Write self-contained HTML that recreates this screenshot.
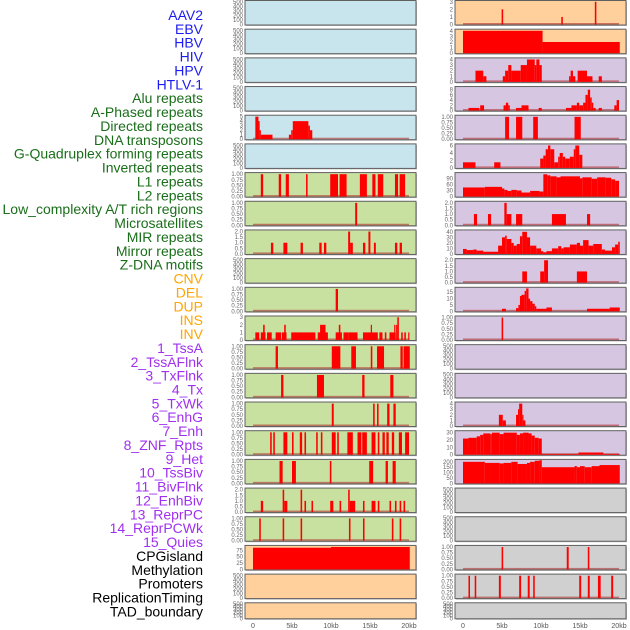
<!DOCTYPE html>
<html><head><meta charset="utf-8">
<style>
html,body{margin:0;padding:0;background:#fff;}
svg{display:block;font-family:"Liberation Sans",sans-serif;}
</style></head>
<body>
<svg id="chart" width="630" height="630" viewBox="0 0 630 630" xmlns="http://www.w3.org/2000/svg"></svg>
<script>
const trackLabels = ["AAV2","EBV","HBV","HIV","HPV","HTLV-1","Alu repeats","A-Phased repeats","Directed repeats","DNA transposons","G-Quadruplex forming repeats","Inverted repeats","L1 repeats","L2 repeats","Low_complexity A/T rich regions","Microsatellites","MIR repeats","Mirror repeats","Z-DNA motifs","CNV","DEL","DUP","INS","INV","1_TssA","2_TssAFlnk","3_TxFlnk","4_Tx","5_TxWk","6_EnhG","7_Enh","8_ZNF_Rpts","9_Het","10_TssBiv","11_BivFlnk","12_EnhBiv","13_ReprPC","14_ReprPCWk","15_Quies","CPGisland","Methylation","Promoters","ReplicationTiming","TAD_boundary"];
const labelGroups = ["v","v","v","v","v","v","r","r","r","r","r","r","r","r","r","r","r","r","r","s","s","s","s","s","c","c","c","c","c","c","c","c","c","c","c","c","c","c","c","o","o","o","o","o"];
const xTicks = [0,5,10,15,20];
const xTickLabels = ["0","5kb","10kb","15kb","20kb"];

// left column panel data: [startKb, endKb, value]
const L1=[],L2=[],L3=[],L4=[],L6=[],L10=[],L21=[],L22=[];
const L5=[[0.3,0.7,5],[0.7,0.85,4],[0.85,1.0,2],[1.0,2.5,1],[4.6,4.9,1],[4.9,5.1,2],[5.1,7.1,4],[7.1,7.3,3],[7.3,7.6,2]];
const L7=[[1.0,1.3,1],[3.3,3.6,1],[4.2,4.6,1],[6.8,7.0,1],[9.9,10.9,1],[11.1,12.0,1],[13.7,14.6,1],[15.3,15.7,1],[16.0,16.7,1],[18.2,18.6,1],[18.8,19.5,1]];
const L8=[[13.1,13.35,1]];
const L9=[[2.3,2.6,1],[3.9,4.4,1],[6.1,6.4,1],[8.5,8.8,1],[9.1,9.4,1],[12.2,12.45,2],[12.45,12.8,1],[14.1,14.4,1],[14.8,15.05,2],[15.5,15.75,1],[18.2,18.5,1],[18.8,19.1,1]];
const L11=[[10.6,10.9,1]];
const L12=[[0.3,0.8,1],[1.0,1.6,1],[1.3,1.5,2],[1.8,2.4,1],[2.9,3.6,1],[3.7,4.3,1],[4.0,4.2,2],[4.9,8.0,1],[8.3,9.6,1],[8.6,9.3,2],[10.6,11.4,1],[11.0,11.2,2],[11.6,12.2,1],[12.2,13.4,1],[14.1,16.0,1],[15.1,15.2,2],[16.2,16.6,1],[16.9,17.1,1],[17.5,18.3,1],[18.1,18.2,2],[18.35,18.5,2],[18.5,18.7,3],[19.0,19.2,1],[19.4,19.6,1],[19.9,20.0,1]];
const L13=[[2.9,3.2,1],[10.1,11.2,1],[12.6,13.2,1],[15.1,15.3,1],[15.9,16.8,1],[18.9,19.2,1],[19.3,20.1,1]];
const L14=[[3.6,3.9,1],[8.2,9.1,1],[14.0,14.3,1],[17.6,18.0,1]];
const L15=[[10.1,10.35,1],[15.4,15.6,1],[15.9,16.1,1],[17.2,17.5,1],[18.0,18.3,1]];
const L16=[[2.2,2.4,1],[2.6,2.8,1],[3.9,4.4,1],[5.0,5.2,1],[6.0,6.3,1],[6.6,6.8,1],[8.1,8.3,1],[8.7,8.9,1],[10.1,10.6,1],[10.8,11.0,1],[12.1,12.8,1],[13.4,13.9,1],[14.0,14.6,1],[15.2,15.7,1],[16.0,16.2,1],[16.6,16.9,1],[17.1,17.4,1],[17.8,18.1,1],[18.7,19.1,1],[19.5,20.0,1]];
const L17=[[3.4,3.8,1],[5.0,5.5,1],[9.85,10.05,1],[14.9,15.4,1],[17.0,17.3,1],[17.9,18.3,1]];
const L18=[[1.0,1.3,1],[3.8,4.0,2],[4.0,4.4,1],[6.1,6.3,2],[6.6,6.8,1],[7.5,7.7,1],[9.9,10.3,1],[11.1,11.3,1],[12.2,12.4,2],[12.4,13.1,1],[14.1,14.3,1],[15.2,15.7,1],[16.0,16.2,1],[17.5,17.7,1],[18.2,18.4,1],[18.8,19.0,1],[19.3,19.5,1]];
const L19=[[0.8,1.0,1],[3.8,4.0,1],[6.1,6.3,1],[12.3,12.5,1],[14.1,14.3,1],[17.8,18.0,1],[18.8,19.0,1]];
const L20=[[0,10,85],[10,20.1,88]];

// right column panel data
const R18=[],R19=[],R22=[],R13=[],R14=[];
const R1=[[4.95,5.15,2],[12.6,12.8,1],[16.9,17.1,3]];
const R2=[[0,10.2,4],[10.2,20.1,2]];
const R3=[[1.6,2.6,2],[2.6,3.0,1],[5.1,5.4,1],[5.4,5.8,2],[5.8,6.2,3],[6.2,7.4,2],[7.4,8.2,3],[8.2,9.2,4],[9.2,9.4,3],[9.4,9.8,4],[9.8,10.1,3],[13.6,13.8,1],[13.8,14.1,2],[14.1,14.4,1],[14.7,15.9,2],[15.9,16.6,1],[17.4,17.8,1]];
const R4=[[0.7,2.1,1],[2.2,2.7,2],[5.2,5.5,2],[5.5,5.8,3],[5.8,6.0,2],[6.8,7.5,1],[7.5,8.4,2],[9.7,10.1,1],[13.2,13.9,1],[13.9,14.6,2],[14.6,14.9,3],[14.9,15.4,2],[15.4,15.7,3],[15.7,16.0,6],[16.0,16.3,8],[16.3,16.5,5],[16.5,16.7,3],[16.7,17.0,1],[17.4,17.8,1],[19.4,19.7,2],[19.7,20.0,4]];
const R5=[[5.4,5.9,1],[6.8,7.6,1],[9.0,9.6,1],[14.3,15.1,1]];
const R6=[[0,1.6,1.5],[4.0,4.8,1.5],[9.9,10.3,2.5],[10.3,10.6,3.3],[10.6,10.9,5],[10.9,11.2,6],[11.2,11.7,5],[11.7,12.2,1.5],[12.2,12.4,3],[12.4,12.8,4],[12.8,13.1,3],[13.1,13.7,2.5],[13.7,14.2,3],[14.2,14.4,5],[14.4,14.9,6],[14.9,15.3,3.5]];
const R7=[[0,2.8,45],[2.8,5.0,48],[5.0,5.3,40],[5.3,5.7,33],[5.7,6.2,28],[6.2,6.9,33],[6.9,7.5,30],[7.5,8.6,20],[8.6,9.8,28],[9.8,10.3,25],[10.3,10.8,110],[10.8,11.2,105],[11.2,12.0,100],[12.0,12.5,95],[12.5,15.0,100],[15.0,15.3,90],[15.3,16.5,95],[16.5,17.2,88],[17.2,18.3,95],[18.3,19.0,93],[19.0,19.5,85],[19.5,20.0,78]];
const R8=[[1.4,1.8,1],[3.2,3.6,1],[5.3,5.6,2],[5.6,6.2,1],[6.8,7.6,1],[11.4,13.2,1],[15.9,16.3,1]];
const R9=[[0,0.47,9],[0.47,1.32,7],[1.32,1.75,8],[1.75,2.6,6],[2.6,4.5,4],[4.5,5.0,15],[5.0,5.4,30],[5.4,5.6,33],[5.6,6.2,27],[6.2,6.5,20],[6.5,6.9,15],[6.9,7.3,18],[7.3,7.6,32],[7.6,8.2,40],[8.2,8.6,30],[8.6,9.4,15],[9.4,10.0,10],[10.0,10.3,5],[10.3,10.7,3],[10.7,11.4,5],[11.4,12.2,10],[12.2,12.6,14],[12.6,12.9,10],[12.9,13.7,12],[13.7,14.6,17],[14.6,15.0,20],[15.0,15.4,15],[15.4,16.1,25],[16.1,16.7,15],[16.7,17.8,18],[17.8,18.2,8],[18.2,19.1,6],[19.1,19.5,12],[19.5,19.9,17],[19.9,20.1,22]];
const R10=[[7.6,8.2,1],[9.9,10.4,1],[10.4,10.9,2],[14.6,15.9,1]];
const R11=[[5.0,5.5,2],[6.8,7.1,2.5],[7.1,7.3,5],[7.3,7.5,12],[7.5,7.9,13],[7.9,8.1,16],[8.1,8.4,18],[8.4,8.6,10],[8.6,8.9,8],[8.9,9.2,6],[9.2,9.4,4],[9.4,10.7,2],[10.7,11.4,3],[15.9,18.8,2],[18.8,20.1,3]];
const R12=[[4.95,5.15,1]];
const R15=[[4.6,5.1,2],[5.1,5.5,1],[6.8,7.05,2],[7.05,7.2,3],[7.2,7.6,4],[7.6,7.7,2],[7.7,8.0,1]];
const R16=[[0,0.7,22],[0.7,1.75,23],[1.75,2.2,25],[2.2,2.6,27],[2.6,3.5,29],[3.5,3.7,28],[3.7,4.7,30],[4.7,5.2,28],[5.2,6.9,30],[6.9,7.3,27],[7.3,7.7,29],[7.7,8.4,30],[8.4,8.8,29],[8.8,9.2,26],[9.2,9.7,23],[9.7,10.1,22],[10.1,14.8,1],[14.8,18.0,3],[18.0,20.1,1]];
const R17=[[0,2.8,200],[2.8,4.7,190],[4.7,5.2,185],[5.2,6.2,190],[6.2,7.0,200],[7.0,8.2,180],[8.2,8.6,190],[8.6,9.2,200],[9.2,9.8,210],[9.8,10.1,215],[10.1,14.3,150],[14.3,14.6,160],[14.6,15.0,150],[15.0,15.6,160],[15.6,16.5,150],[16.5,17.5,160],[17.5,20.1,170]];
const R20=[[4.95,5.15,1],[13.3,13.55,1],[16.0,16.2,1]];
const R21=[[0.7,0.9,1],[1.5,1.7,1],[4.6,4.85,1],[7.2,7.45,1],[8.3,8.55,1],[9.0,9.2,1],[14.9,15.15,1],[16.0,16.25,1],[17.3,17.65,1],[19.0,19.25,1]];

const tEmpty=[0,100,200,300,400,500];
const t1=[0,0.25,0.5,0.75,1.0];
const t2=[0,0.5,1.0,1.5,2.0];
const leftData=[L1,L2,L3,L4,L5,L6,L7,L8,L9,L10,L11,L12,L13,L14,L15,L16,L17,L18,L19,L20,L21,L22];
const rightData=[R1,R2,R3,R4,R5,R6,R7,R8,R9,R10,R11,R12,R13,R14,R15,R16,R17,R18,R19,R20,R21,R22];
const leftMax=[520,520,520,520,5.2,520,1.05,1.05,2.1,520,1.05,3.1,1.05,1.05,1.05,1.05,1.05,2.1,1.05,92,520,520];
const rightMax=[3.1,4.2,4.2,9,1.05,6.3,116,2.1,42.5,2.1,18.5,1.05,520,520,4.2,32,218,520,520,1.05,1.05,520];
const leftTicks=[tEmpty,tEmpty,tEmpty,tEmpty,[0,1,2,3,4,5],tEmpty,t1,t1,t2,tEmpty,t1,[0,1,2,3],t1,t1,t1,t1,t1,t2,t1,[0,25,50,75],tEmpty,tEmpty];
const rightTicks=[[0,1,2,3],[0,1,2,3,4],[0,1,2,3,4],[0,2,4,6,8],t1,[0,2,4,6],[0,30,60,90],t2,[0,10,20,30,40],t2,[0,5,10,15],t1,tEmpty,tEmpty,[0,1,2,3,4],[0,10,20,30],[0,50,100,150,200],tEmpty,tEmpty,t1,t1,tEmpty];
const leftColors=["#c8e4ec","#c8e4ec","#c8e4ec","#c8e4ec","#c8e4ec","#c8e4ec","#c8e0a0","#c8e0a0","#c8e0a0","#c8e0a0","#c8e0a0","#c8e0a0","#c8e0a0","#c8e0a0","#c8e0a0","#c8e0a0","#c8e0a0","#c8e0a0","#c8e0a0","#ffd09c","#ffd09c","#ffd09c"];
const rightColors=["#ffd09c","#ffd09c","#d6c6e2","#d6c6e2","#d6c6e2","#d6c6e2","#d6c6e2","#d6c6e2","#d6c6e2","#d6c6e2","#d6c6e2","#d6c6e2","#d6c6e2","#d6c6e2","#d6c6e2","#d6c6e2","#d6c6e2","#d0d0d0","#d0d0d0","#d0d0d0","#d0d0d0","#d0d0d0"];

const NS="http://www.w3.org/2000/svg";
const svg=document.getElementById('chart');
function mk(tag,attrs,parent){const e=document.createElementNS(NS,tag);for(const k in attrs)e.setAttribute(k,attrs[k]);(parent||svg).appendChild(e);return e;}
const groupColor={v:"#1c1cf0",r:"#1a6e1a",s:"#ffa500",c:"#a030f0",o:"#000"};
const PITCH=28.68, PH=24.5;
function rowTop(i){return i*PITCH+0.5;}
function rowH(i){return i===21?16:PH;}
function xScale(col,kb){return (col===0?253:463)+kb*7.8;}
function fmt(v,ticks){const dec=ticks.some(t=>t%1!==0);if(!dec)return String(v);return ticks.some(t=>Math.round(t*100)%50!==0)?v.toFixed(2):v.toFixed(1);}

// labels
trackLabels.forEach((t,i)=>{
  const el=mk('text',{x:203,y:20+i*13.87,'text-anchor':'end','font-size':'14',fill:groupColor[labelGroups[i]]});
  el.textContent=t;
  
  
});

function drawPanel(col,i,data,ymax,ticks,bg){
  const px=col===0?245:455, pw=171, top=rowTop(i), h=rowH(i), bot=top+h;
  const g=mk('g',{});
  
  
  mk('rect',{x:px+1,y:top+1,width:pw,height:h,fill:'#bbb'},g);
  const bgR=mk('rect',{x:px,y:top,width:pw,height:h,fill:bg,stroke:'#606060','stroke-width':1},g);
  
  
  const ys=v=>bot-0.5-(v/ymax)*(h-1);
  if(data.length){
    const base=mk('rect',{x:xScale(col,0),y:bot-2,width:xScale(col,20)-xScale(col,0),height:1.5,fill:'#b03030','fill-opacity':0.6},g);
    
    
  }
  data.forEach(d=>{
    const x0=xScale(col,d[0]),x1=xScale(col,d[1]),y=ys(d[2]);
    const b=mk('rect',{x:x0,y:y,width:Math.max(1.2,x1-x0),height:bot-0.5-y,fill:'#ff0000'},g);
    
    
  });
  ticks.forEach(t=>{
    const tl=mk('text',{x:px-2,y:ys(t)+2,'text-anchor':'end','font-size':'6',fill:'#666'},g);
    tl.textContent=fmt(t,ticks);
    
    
  });
}
leftData.forEach((d,i)=>drawPanel(0,i,d,leftMax[i],leftTicks[i],leftColors[i]));
rightData.forEach((d,i)=>drawPanel(1,i,d,rightMax[i],rightTicks[i],rightColors[i]));

[0,1].forEach(col=>{
  xTicks.forEach((k,j)=>{
    const t=mk('text',{x:xScale(col,k),y:628,'text-anchor':'middle','font-size':'7',fill:'#555'});
    t.textContent=xTickLabels[j];
    
    
  });
});
</script>
</body></html>
